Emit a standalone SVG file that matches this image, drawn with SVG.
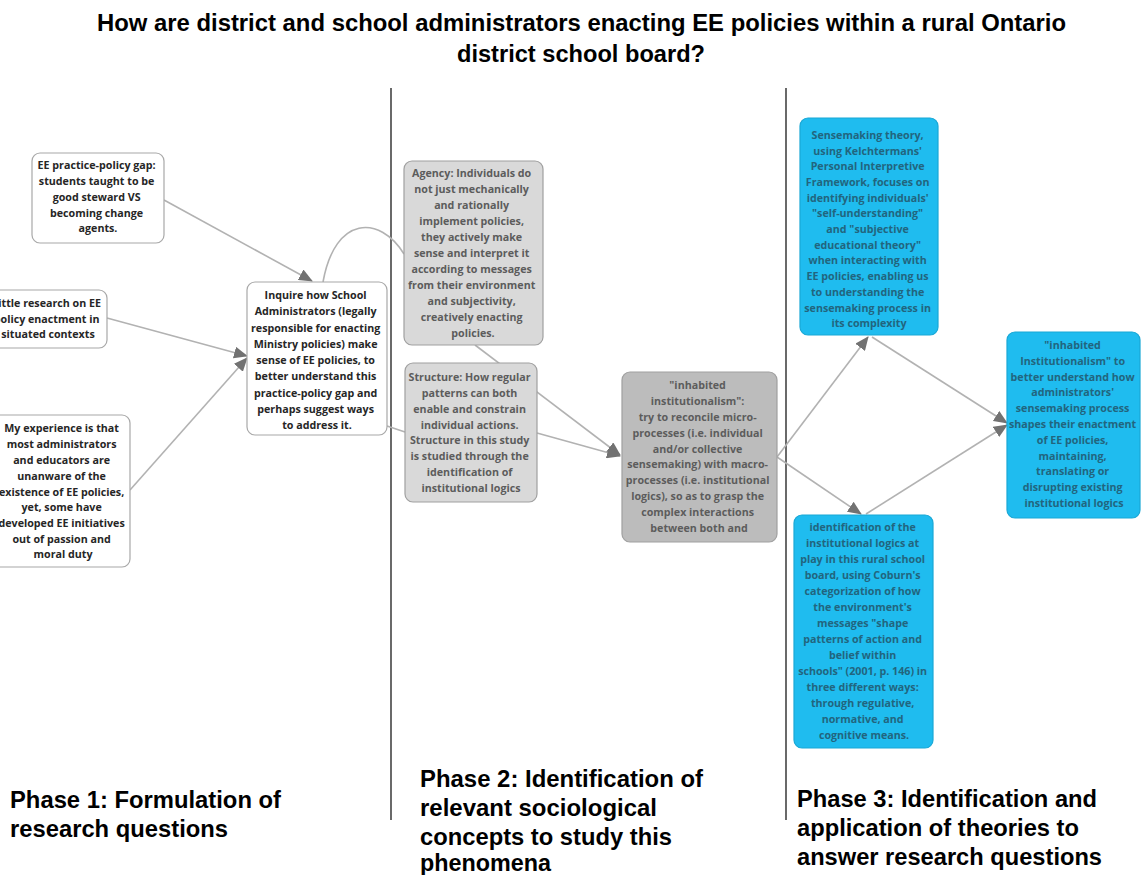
<svg xmlns="http://www.w3.org/2000/svg" width="1142" height="875" viewBox="0 0 1142 875">
  <defs>
    <marker id="arrow" viewBox="0 0 14 12" refX="13" refY="6" markerWidth="14" markerHeight="12" markerUnits="userSpaceOnUse" orient="auto">
      <path d="M0,0 L14,6 L0,12 z" fill="#727272"/>
    </marker>
    <style>
      .title { font-family: "Liberation Sans", Arial, sans-serif; font-weight: 700; font-size: 23px; fill: #000; }
      .phase { font-family: "Liberation Sans", Arial, sans-serif; font-weight: 700; font-size: 24px; fill: #000; }
      .sep { stroke: #1a1a1a; stroke-width: 1.3; }
      .edge { fill: none; stroke: #b2b2b2; stroke-width: 1.6; }
      .box { stroke-width: 1.2; }
      .white { fill: #ffffff; stroke: #a8a8a8; }
      .grey { fill: #d9d9d9; stroke: #a0a0a0; }
      .dark { fill: #bcbcbc; stroke: #a0a0a0; }
      .blue { fill: #1fbcef; stroke: #19a8d6; }
      .lbl { font-family: "Open Sans", "Noto Sans", sans-serif; font-weight: 700; font-size: 10.7px; text-anchor: middle; }
      .t-dark { fill: #262626; }
      .t-grey { fill: #5c5c5c; }
      .t-blue { fill: #22657e; }
    </style>
  </defs>

  <rect width="1142" height="875" fill="#ffffff"/>

  <!-- heading -->
  <g id="title">
    <text class="title" x="97" y="31" textLength="969" lengthAdjust="spacingAndGlyphs">How are district and school administrators enacting EE policies within a rural Ontario</text>
    <text class="title" x="457" y="62" textLength="248" lengthAdjust="spacingAndGlyphs">district school board?</text>
  </g>

  <!-- phase separators -->
  <g id="separators">
    <line class="sep" x1="391" y1="88" x2="391" y2="820"/>
    <line class="sep" x1="786" y1="88" x2="786" y2="820"/>
  </g>

  <!-- connectors -->
  <g id="connectors">
    <line class="edge" x1="164" y1="200" x2="312" y2="281" marker-end="url(#arrow)"/>
    <line class="edge" x1="107" y1="318" x2="247" y2="356" marker-end="url(#arrow)"/>
    <line class="edge" x1="130" y1="490" x2="247" y2="358" marker-end="url(#arrow)"/>
    <path class="edge" d="M323,282 C335,215 380,215 404,254"/>
    <line class="edge" x1="387" y1="426" x2="405" y2="432"/>
    <line class="edge" x1="475" y1="345" x2="620" y2="455" marker-end="url(#arrow)"/>
    <line class="edge" x1="537" y1="433" x2="620" y2="456" marker-end="url(#arrow)"/>
    <line class="edge" x1="777" y1="457" x2="868" y2="337" marker-end="url(#arrow)"/>
    <line class="edge" x1="777" y1="457" x2="861" y2="514" marker-end="url(#arrow)"/>
    <line class="edge" x1="872" y1="337" x2="1007" y2="423" marker-end="url(#arrow)"/>
    <line class="edge" x1="866" y1="514" x2="1007" y2="425" marker-end="url(#arrow)"/>
  </g>

  <!-- phase 1 -->
  <g id="gap">
    <rect class="box white" x="32" y="153" width="132" height="90" rx="8"/>
    <text class="lbl t-dark">
      <tspan x="98" y="169">EE practice-policy gap:</tspan>
      <tspan x="98" y="185">students taught to be</tspan>
      <tspan x="98" y="201">good steward VS</tspan>
      <tspan x="98" y="217">becoming change</tspan>
      <tspan x="98" y="232">agents.</tspan>
    </text>
  </g>

  <g id="little-research">
    <rect class="box white" x="-12" y="290" width="119" height="58" rx="8"/>
    <text class="lbl t-dark">
      <tspan x="48" y="307">Little research on EE</tspan>
      <tspan x="48" y="323">policy enactment in</tspan>
      <tspan x="48" y="338">situated contexts</tspan>
    </text>
  </g>

  <g id="experience">
    <rect class="box white" x="-20" y="415" width="150" height="152" rx="8"/>
    <text class="lbl t-dark">
      <tspan x="63" y="432">My experience is that</tspan>
      <tspan x="63" y="448">most administrators</tspan>
      <tspan x="63" y="464">and educators are</tspan>
      <tspan x="63" y="480">unanware of the</tspan>
      <tspan x="63" y="496">existence of EE policies,</tspan>
      <tspan x="63" y="511">yet, some have</tspan>
      <tspan x="63" y="527">developed EE initiatives</tspan>
      <tspan x="63" y="543">out of passion and</tspan>
      <tspan x="63" y="558">moral duty</tspan>
    </text>
  </g>

  <g id="inquire">
    <rect class="box white" x="247" y="282" width="140" height="153" rx="8"/>
    <text class="lbl t-dark">
      <tspan x="317" y="299">Inquire how School</tspan>
      <tspan x="317" y="315">Administrators (legally</tspan>
      <tspan x="317" y="331.5">responsible for enacting</tspan>
      <tspan x="317" y="348">Ministry policies) make</tspan>
      <tspan x="317" y="364">sense of EE policies, to</tspan>
      <tspan x="317" y="380">better understand this</tspan>
      <tspan x="317" y="396.5">practice-policy gap and</tspan>
      <tspan x="317" y="413">perhaps suggest ways</tspan>
      <tspan x="317" y="429">to address it.</tspan>
    </text>
  </g>

  <!-- phase 2 -->
  <g id="agency">
    <rect class="box grey" x="404" y="161" width="139" height="184" rx="8"/>
    <text class="lbl t-grey">
      <tspan x="473" y="177">Agency: Individuals do</tspan>
      <tspan x="473" y="193">not just mechanically</tspan>
      <tspan x="473" y="209">and rationally</tspan>
      <tspan x="473" y="225">implement policies,</tspan>
      <tspan x="473" y="241">they actively make</tspan>
      <tspan x="473" y="257">sense and interpret it</tspan>
      <tspan x="473" y="273">according to messages</tspan>
      <tspan x="473" y="289">from their environment</tspan>
      <tspan x="473" y="305">and subjectivity,</tspan>
      <tspan x="473" y="321">creatively enacting</tspan>
      <tspan x="473" y="337">policies.</tspan>
    </text>
  </g>

  <g id="structure">
    <rect class="box grey" x="405" y="363" width="132" height="139" rx="8"/>
    <text class="lbl t-grey">
      <tspan x="471" y="381">Structure: How regular</tspan>
      <tspan x="471" y="397">patterns  can both</tspan>
      <tspan x="471" y="413">enable and constrain</tspan>
      <tspan x="471" y="429">individual actions.</tspan>
      <tspan x="471" y="444">Structure in this study</tspan>
      <tspan x="471" y="460">is studied through the</tspan>
      <tspan x="471" y="476">identification of</tspan>
      <tspan x="471" y="492">institutional logics</tspan>
    </text>
  </g>

  <g id="inhabited-concept">
    <rect class="box dark" x="622" y="372" width="155" height="170" rx="8"/>
    <text class="lbl t-grey">
      <tspan x="699" y="389">"inhabited</tspan>
      <tspan x="699" y="405">institutionalism":</tspan>
      <tspan x="699" y="421">try to reconcile micro-</tspan>
      <tspan x="699" y="437">processes (i.e. individual</tspan>
      <tspan x="699" y="453">and/or collective</tspan>
      <tspan x="699" y="468">sensemaking) with macro-</tspan>
      <tspan x="699" y="484">processes (i.e. institutional</tspan>
      <tspan x="699" y="500">logics), so as to grasp the</tspan>
      <tspan x="699" y="516">complex interactions</tspan>
      <tspan x="699" y="532">between both and</tspan>
    </text>
  </g>

  <!-- phase 3 -->
  <g id="sensemaking">
    <rect class="box blue" x="800" y="118" width="138" height="217" rx="8"/>
    <text class="lbl t-blue">
      <tspan x="869" y="139">Sensemaking theory,</tspan>
      <tspan x="869" y="155">using Kelchtermans'</tspan>
      <tspan x="869" y="170">Personal Interpretive</tspan>
      <tspan x="869" y="186">Framework, focuses on</tspan>
      <tspan x="869" y="202">identifying individuals'</tspan>
      <tspan x="869" y="217">"self-understanding"</tspan>
      <tspan x="869" y="233">and "subjective</tspan>
      <tspan x="869" y="249">educational theory"</tspan>
      <tspan x="869" y="264">when interacting with</tspan>
      <tspan x="869" y="280">EE policies, enabling us</tspan>
      <tspan x="869" y="296">to understanding the</tspan>
      <tspan x="869" y="312">sensemaking process in</tspan>
      <tspan x="869" y="327">its complexity</tspan>
    </text>
  </g>

  <g id="identification">
    <rect class="box blue" x="794" y="515" width="139" height="233" rx="8"/>
    <text class="lbl t-blue">
      <tspan x="864" y="531">identification of the</tspan>
      <tspan x="864" y="547">institutional logics at</tspan>
      <tspan x="864" y="563">play in this rural school</tspan>
      <tspan x="864" y="579">board, using Coburn's</tspan>
      <tspan x="864" y="595">categorization of how</tspan>
      <tspan x="864" y="611">the environment's</tspan>
      <tspan x="864" y="627">messages "shape</tspan>
      <tspan x="864" y="643">patterns of action and</tspan>
      <tspan x="864" y="659">belief within</tspan>
      <tspan x="864" y="675">schools" (2001, p. 146) in</tspan>
      <tspan x="864" y="691">three different ways:</tspan>
      <tspan x="864" y="707">through regulative,</tspan>
      <tspan x="864" y="723">normative, and</tspan>
      <tspan x="864" y="739">cognitive means.</tspan>
    </text>
  </g>

  <g id="inhabited-theory">
    <rect class="box blue" x="1007" y="332" width="133" height="186" rx="8"/>
    <text class="lbl t-blue">
      <tspan x="1074" y="349">"inhabited</tspan>
      <tspan x="1074" y="365">Institutionalism" to</tspan>
      <tspan x="1074" y="381">better understand how</tspan>
      <tspan x="1074" y="396">administrators'</tspan>
      <tspan x="1074" y="412">sensemaking process</tspan>
      <tspan x="1074" y="428">shapes their enactment</tspan>
      <tspan x="1074" y="444">of EE policies,</tspan>
      <tspan x="1074" y="460">maintaining,</tspan>
      <tspan x="1074" y="475">translating or</tspan>
      <tspan x="1074" y="491">disrupting existing</tspan>
      <tspan x="1074" y="507">institutional logics</tspan>
    </text>
  </g>

  <!-- phase captions -->
  <g id="phase-1">
    <text class="phase" x="10" y="808" textLength="271" lengthAdjust="spacingAndGlyphs">Phase 1: Formulation of</text>
    <text class="phase" x="10" y="837" textLength="218" lengthAdjust="spacingAndGlyphs">research questions</text>
  </g>
  <g id="phase-2">
    <text class="phase" x="420" y="787" textLength="283" lengthAdjust="spacingAndGlyphs">Phase 2: Identification of</text>
    <text class="phase" x="420" y="816" textLength="237" lengthAdjust="spacingAndGlyphs">relevant sociological</text>
    <text class="phase" x="420" y="845" textLength="252" lengthAdjust="spacingAndGlyphs">concepts to study this</text>
    <text class="phase" x="420" y="871" textLength="131" lengthAdjust="spacingAndGlyphs">phenomena</text>
  </g>
  <g id="phase-3">
    <text class="phase" x="797" y="807" textLength="300" lengthAdjust="spacingAndGlyphs">Phase 3: Identification and</text>
    <text class="phase" x="797" y="836" textLength="282" lengthAdjust="spacingAndGlyphs">application of theories to</text>
    <text class="phase" x="797" y="865" textLength="305" lengthAdjust="spacingAndGlyphs">answer research questions</text>
  </g>
</svg>
